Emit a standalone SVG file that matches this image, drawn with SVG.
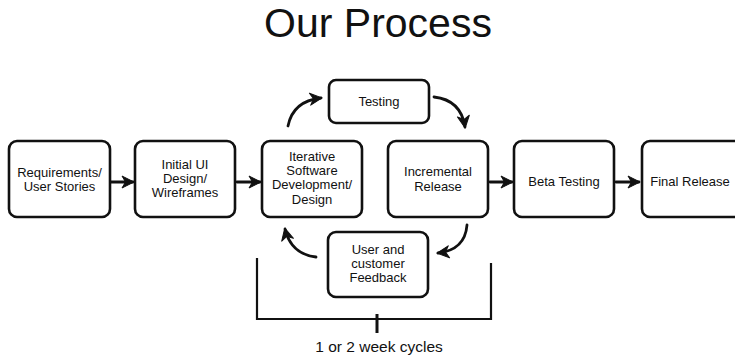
<svg xmlns="http://www.w3.org/2000/svg" width="735" height="357" viewBox="0 0 735 357">
<defs>
<style>
.box{fill:#fff;stroke:#111;stroke-width:2.6}
.t{font-family:"Liberation Sans","DejaVu Sans",sans-serif;font-size:13px;fill:#111;text-anchor:middle}
.title{font-family:"Liberation Sans","DejaVu Sans",sans-serif;font-size:41px;fill:#111;text-anchor:middle}
.c{fill:none;stroke:#111;stroke-width:2.8;stroke-linecap:round}
.br{fill:none;stroke:#111;stroke-width:2.2}
</style>
<marker id="ah" viewBox="0 0 14 14" refX="12" refY="7" markerWidth="14" markerHeight="14" markerUnits="userSpaceOnUse" orient="auto">
<path d="M1,1 L13,7 L1,13 L4.5,7 Z" fill="#111" stroke="#111" stroke-width="1" stroke-linejoin="round"/>
</marker>
</defs>
<rect width="735" height="357" fill="#fff"/>
<text class="title" x="378" y="37">Our Process</text>
<g id="n-req"><rect class="box" x="9" y="141" width="101" height="76" rx="8"/><text class="t" x="59.5" y="177">Requirements/</text><text class="t" x="59.5" y="191">User Stories</text></g>
<g id="n-ui"><rect class="box" x="135" y="141" width="100" height="76" rx="8"/><text class="t" x="185" y="169">Initial UI</text><text class="t" x="185" y="183">Design/</text><text class="t" x="185" y="197">Wireframes</text></g>
<g id="n-iter"><rect class="box" x="262" y="141" width="100" height="76" rx="8"/><text class="t" x="312" y="161">Iterative</text><text class="t" x="312" y="175">Software</text><text class="t" x="312" y="189">Development/</text><text class="t" x="312" y="204">Design</text></g>
<g id="n-test"><rect class="box" x="329" y="80" width="100" height="43" rx="7"/><text class="t" x="379" y="106">Testing</text></g>
<g id="n-inc"><rect class="box" x="388" y="141" width="100" height="76" rx="8"/><text class="t" x="438" y="176">Incremental</text><text class="t" x="438" y="191">Release</text></g>
<g id="n-fb"><rect class="box" x="328" y="232" width="100" height="65" rx="8"/><text class="t" x="378" y="254">User and</text><text class="t" x="378" y="268">customer</text><text class="t" x="378" y="282">Feedback</text></g>
<g id="n-beta"><rect class="box" x="514" y="141" width="100" height="76" rx="8"/><text class="t" x="564" y="186">Beta Testing</text></g>
<g id="n-final"><rect class="box" x="642" y="141" width="100" height="76" rx="8"/><text class="t" x="690" y="186">Final Release</text></g>
<g id="connectors">
<line class="c" x1="111" y1="182" x2="133" y2="182" marker-end="url(#ah)"/>
<line class="c" x1="237" y1="182" x2="260" y2="182" marker-end="url(#ah)"/>
<line class="c" x1="490" y1="182" x2="512" y2="182" marker-end="url(#ah)"/>
<line class="c" x1="616" y1="182" x2="639" y2="182" marker-end="url(#ah)"/>
<path class="c" d="M288,126 Q293,101 321,98" marker-end="url(#ah)"/>
<path class="c" d="M434,97 Q461,100 465,127" marker-end="url(#ah)"/>
<path class="c" d="M467,225 Q465,250 438,253" marker-end="url(#ah)"/>
<path class="c" d="M316,257 Q291,254 285,229" marker-end="url(#ah)"/>
<path class="br" d="M257,258 L257,319 L491,319 L491,263"/>
<line x1="377" y1="314" x2="377" y2="333" stroke="#111" stroke-width="3"/>
</g>
<text class="t" x="379" y="352" style="font-size:15.5px">1 or 2 week cycles</text>
</svg>
